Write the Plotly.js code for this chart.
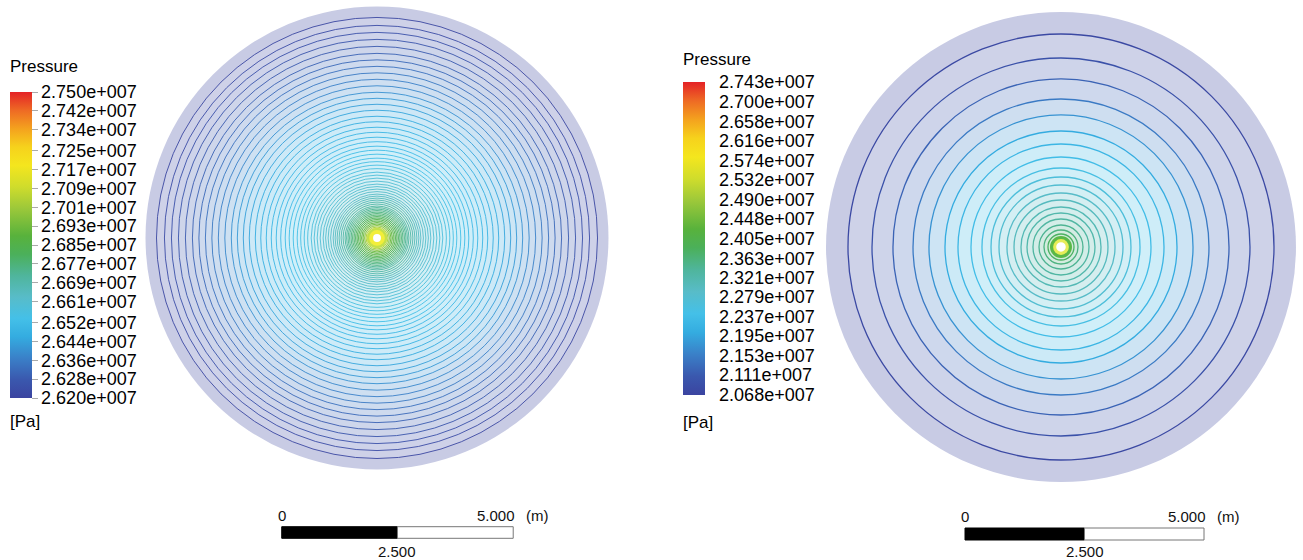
<!DOCTYPE html>
<html>
<head>
<meta charset="utf-8">
<script src="https://cdn.plot.ly/plotly-3.0.1.min.js"></script>
<style>html,body{margin:0;padding:0;background:#fff;}#chart{width:1303px;height:560px;}</style>
</head>
<body>
<div id="chart"></div>
<script>
// ---------- data ----------
// Left case: contour line radii (m) and their pressure levels (Pa)
const leftRadii = [4.763, 4.591, 4.440, 4.289, 4.138, 3.987, 3.847, 3.707, 3.567, 3.427, 3.287, 3.147, 3.017, 2.888, 2.759, 2.629, 2.511, 2.392, 2.284, 2.177, 2.080, 1.983, 1.897, 1.810, 1.724, 1.649, 1.573, 1.498, 1.422, 1.358, 1.293, 1.228, 1.164, 1.110, 1.056, 1.002, 0.948, 0.905, 0.862, 0.819, 0.776, 0.733, 0.690, 0.657, 0.625, 0.593, 0.560, 0.528, 0.496, 0.463, 0.431, 0.399, 0.366, 0.334, 0.302, 0.269, 0.237, 0.205];
const leftLevels = [2.6213e7, 2.6231e7, 2.6248e7, 2.6265e7, 2.6283e7, 2.6300e7, 2.6317e7, 2.6334e7, 2.6352e7, 2.6369e7, 2.6386e7, 2.6404e7, 2.6421e7, 2.6434e7, 2.6447e7, 2.6460e7, 2.6473e7, 2.6486e7, 2.6499e7, 2.6506e7, 2.6512e7, 2.6519e7, 2.6525e7, 2.6533e7, 2.6541e7, 2.6548e7, 2.6556e7, 2.6564e7, 2.6573e7, 2.6581e7, 2.6589e7, 2.6595e7, 2.6603e7, 2.6610e7, 2.6617e7, 2.6625e7, 2.6634e7, 2.6642e7, 2.6655e7, 2.6668e7, 2.6682e7, 2.6695e7, 2.6710e7, 2.6720e7, 2.6733e7, 2.6746e7, 2.6759e7, 2.6772e7, 2.6785e7, 2.6805e7, 2.6824e7, 2.6844e7, 2.6870e7, 2.6896e7, 2.6922e7, 2.6967e7, 2.7032e7, 2.7110e7];
const leftRange = [2.620e7, 2.750e7];
const leftTickVals = [2.620e7, 2.628e7, 2.636e7, 2.644e7, 2.652e7, 2.661e7, 2.669e7, 2.677e7, 2.685e7, 2.693e7, 2.701e7, 2.709e7, 2.717e7, 2.725e7, 2.734e7, 2.742e7, 2.750e7];
const leftTickText = ['2.620e+007','2.628e+007','2.636e+007','2.644e+007','2.652e+007','2.661e+007','2.669e+007','2.677e+007','2.685e+007','2.693e+007','2.701e+007','2.709e+007','2.717e+007','2.725e+007','2.734e+007','2.742e+007','2.750e+007'];
const leftDiskRadius = 5.0;

// Right case
const rightRadii = [4.456, 3.954, 3.515, 3.096, 2.762, 2.427, 2.155, 1.883, 1.653, 1.464, 1.297, 1.130, 0.983, 0.837, 0.711, 0.586, 0.460, 0.356, 0.272];
const rightLevels = [2.0781e7, 2.0950e7, 2.1220e7, 2.1490e7, 2.1760e7, 2.2030e7, 2.2233e7, 2.2368e7, 2.2503e7, 2.2638e7, 2.2773e7, 2.2908e7, 2.3010e7, 2.3110e7, 2.3211e7, 2.3313e7, 2.3448e7, 2.3583e7, 2.3785e7];
const rightRange = [2.068e7, 2.743e7];
const rightTickVals = [2.068e7, 2.111e7, 2.153e7, 2.195e7, 2.237e7, 2.279e7, 2.321e7, 2.363e7, 2.405e7, 2.448e7, 2.490e7, 2.532e7, 2.574e7, 2.616e7, 2.658e7, 2.700e7, 2.743e7];
const rightTickText = ['2.068e+007','2.111e+007','2.153e+007','2.195e+007','2.237e+007','2.279e+007','2.321e+007','2.363e+007','2.405e+007','2.448e+007','2.490e+007','2.532e+007','2.574e+007','2.616e+007','2.658e+007','2.700e+007','2.743e+007'];
const rightDiskRadius = 4.916;

// well at the centre of each disk (m)
const wellX = 0, wellY = 0;
// scale bar (m)
const scaleTicks = [0, 2.5, 5];
const scaleText = ['0', '2.500', '5.000'];
const scaleUnit = '(m)';
const titleText = 'Pressure';
const unitText = '[Pa]';

// ---------- style ----------
const FONT = 'Arial, "Liberation Sans", Helvetica, sans-serif';
const colorStops = [[0,'#3b44a0'],[0.06,'#3a58ae'],[0.13,'#3a80c8'],[0.2,'#34ace0'],[0.26,'#44c0e8'],[0.33,'#58bcc8'],[0.4,'#4fb59c'],[0.47,'#4bb05a'],[0.53,'#58b23c'],[0.62,'#9cc83a'],[0.69,'#cfdc2c'],[0.76,'#f4e61e'],[0.82,'#f6d21c'],[0.88,'#f4a21e'],[0.94,'#ee6a24'],[1,'#e42226']];

function hex2rgb(h){return [parseInt(h.slice(1,3),16),parseInt(h.slice(3,5),16),parseInt(h.slice(5,7),16)];}
function cmap(f){
  f = Math.max(0, Math.min(1, f));
  for (let i = 1; i < colorStops.length; i++) {
    if (f <= colorStops[i][0]) {
      const a = colorStops[i-1], b = colorStops[i];
      const t = (f - a[0]) / (b[0] - a[0]);
      const ca = hex2rgb(a[1]), cb = hex2rgb(b[1]);
      return ca.map((v, k) => Math.round(v + (cb[k] - v) * t));
    }
  }
  return hex2rgb(colorStops[colorStops.length-1][1]);
}
function rgbStr(c){return 'rgb(' + c.join(',') + ')';}
function light(c, a){return 'rgb(' + c.map(v => Math.round(255 - a * (255 - v))).join(',') + ')';}

function diskShapes(xr, yr, diskR, radii, levels, range, lw, centre) {
  const s = [];
  const frac = v => (v - range[0]) / (range[1] - range[0]);
  s.push({type:'circle', xref:xr, yref:yr, x0:wellX-diskR, x1:wellX+diskR, y0:wellY-diskR, y1:wellY+diskR,
          fillcolor: light(cmap(0), 0.28), line:{width:0}});
  for (let i = 0; i < radii.length; i++) {
    const r = radii[i];
    const c = cmap(frac(levels[i]));
    s.push({type:'circle', xref:xr, yref:yr, x0:wellX-r, x1:wellX+r, y0:wellY-r, y1:wellY+r,
            fillcolor: light(c, 0.25), line:{color: rgbStr(c), width: lw}});
  }
  centre.forEach(cc => {
    s.push({type:'circle', xref:xr, yref:yr, x0:wellX-cc[0], x1:wellX+cc[0], y0:wellY-cc[0], y1:wellY+cc[0],
            fillcolor: cc[1], line:{width:0}});
  });
  return s;
}

const shapes = [].concat(
  diskShapes('x', 'y', leftDiskRadius, leftRadii, leftLevels, leftRange, 0.9,
             [[0.22, '#c4e04c'], [0.17, '#f2ee3a'], [0.085, '#ffffff']]),
  diskShapes('x2', 'y2', rightDiskRadius, rightRadii, rightLevels, rightRange, 1.3,
             [[0.23, '#5ab848'], [0.165, '#e6ec58'], [0.1, '#ffffff']])
);

// scale bars
const offL = -2.058, offR = -2.008;
function scaleBar(xr, off, yb, yt, yLab, yMid) {
  shapes.push({type:'rect', xref:xr, yref:'paper', x0:off+scaleTicks[0], x1:off+scaleTicks[1], y0:yb, y1:yt,
               fillcolor:'#000', line:{color:'#000', width:1}});
  shapes.push({type:'rect', xref:xr, yref:'paper', x0:off+scaleTicks[1], x1:off+scaleTicks[2], y0:yb, y1:yt,
               fillcolor:'#fff', line:{color:'#777', width:1}});
  return [
    {xref:xr, yref:'paper', x:off+scaleTicks[0], y:yLab, text:scaleText[0], showarrow:false, xanchor:'center', yanchor:'middle', font:{size:15, family:FONT, color:'#111'}},
    {xref:xr, yref:'paper', x:off+scaleTicks[2], y:yLab, text:scaleText[2], showarrow:false, xanchor:'right', xshift:4, yanchor:'middle', font:{size:15, family:FONT, color:'#111'}},
    {xref:xr, yref:'paper', x:off+scaleTicks[2], y:yLab, text:scaleUnit, showarrow:false, xanchor:'left', xshift:11, yanchor:'middle', font:{size:15, family:FONT, color:'#111'}},
    {xref:xr, yref:'paper', x:off+scaleTicks[1], y:yMid, text:scaleText[1], showarrow:false, xanchor:'center', yanchor:'middle', font:{size:15, family:FONT, color:'#111'}}
  ];
}
let annotations = [];
annotations = annotations.concat(scaleBar('x', offL, 1-538.3/560, 1-526.7/560, 1-515/560, 1-551.5/560));
annotations = annotations.concat(scaleBar('x2', offR, 1-540/560, 1-528/560, 1-516/560, 1-551.5/560));

annotations.push({xref:'paper', yref:'paper', x:8/1303, y:1-66.5/560, text:titleText, showarrow:false, xanchor:'left', yanchor:'middle', font:{size:17, family:FONT, color:'#000'}});
annotations.push({xref:'paper', yref:'paper', x:8/1303, y:1-421.5/560, text:unitText, showarrow:false, xanchor:'left', yanchor:'middle', font:{size:17, family:FONT, color:'#000'}});
annotations.push({xref:'paper', yref:'paper', x:681/1303, y:1-60/560, text:titleText, showarrow:false, xanchor:'left', yanchor:'middle', font:{size:17, family:FONT, color:'#000'}});
annotations.push({xref:'paper', yref:'paper', x:681/1303, y:1-422/560, text:unitText, showarrow:false, xanchor:'left', yanchor:'middle', font:{size:17, family:FONT, color:'#000'}});

const csPlotly = colorStops.map(s => [s[0], s[1]]);
function cbTrace(xa, ya, range, tv, tt, xpx, toppx, lenpx, tlen, tcol) {
  return {
    type:'scatter', mode:'markers', x:[wellX], y:[wellY], xaxis:xa, yaxis:ya, hoverinfo:'skip',
    marker:{size:2, opacity:0, color:[range[1]], cmin:range[0], cmax:range[1], colorscale:csPlotly, showscale:true,
      colorbar:{x:xpx/1303, xanchor:'left', y:1-toppx/560, yanchor:'top', len:lenpx, lenmode:'pixels',
        thickness:22, thicknessmode:'pixels', xpad:0, ypad:0, outlinewidth:0,
        tickmode:'array', tickvals:tv, ticktext:tt, ticks:'outside', ticklen:tlen, tickcolor:tcol, tickwidth:1,
        tickfont:{size:18, family:FONT, color:'#000'}}}
  };
}

const data = [
  cbTrace('x', 'y', leftRange, leftTickVals, leftTickText, 10, 92, 306, 6, '#aaa'),
  cbTrace('x2', 'y2', rightRange, rightTickVals, rightTickText, 683, 82, 313, 11, 'rgba(255,255,255,0)')
];

const ax = {visible:false, showgrid:false, zeroline:false, fixedrange:true};
const layout = {
  width:1303, height:560, margin:{l:0, r:0, t:0, b:0, autoexpand:false},
  paper_bgcolor:'#ffffff', plot_bgcolor:'rgba(0,0,0,0)', showlegend:false,
  xaxis: Object.assign({domain:[0, 0.5], range:[-8.143, 5.929], anchor:'y'}, ax),
  yaxis: Object.assign({domain:[0, 1], range:[-6.955, 5.140], anchor:'x'}, ax),
  xaxis2: Object.assign({domain:[0.5, 1], range:[-8.567, 5.063], anchor:'y2'}, ax),
  yaxis2: Object.assign({domain:[0, 1], range:[-6.548, 5.167], anchor:'x2'}, ax),
  shapes: shapes,
  annotations: annotations
};

Plotly.newPlot('chart', data, layout, {displayModeBar:false, staticPlot:true});
</script>
</body>
</html>
